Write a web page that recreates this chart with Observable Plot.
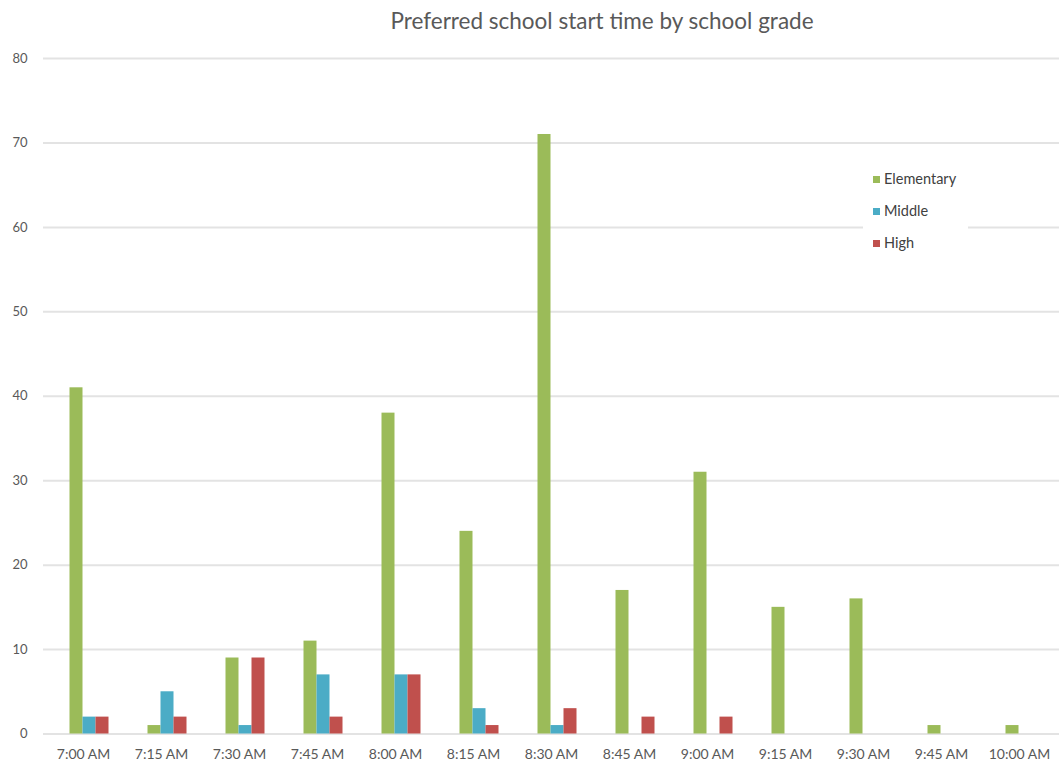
<!DOCTYPE html>
<html>
<head>
<meta charset="utf-8">
<script src="https://cdn.jsdelivr.net/npm/d3@7"></script>
<script src="https://cdn.jsdelivr.net/npm/@observablehq/plot@0.6"></script>
<style>
  html, body { margin: 0; padding: 0; background: #fff; }
  #wrap { position: relative; width: 1059px; height: 765px; font-family: Lato, "Open Sans", sans-serif; }
  #title { height: 40px; line-height: 42px; box-sizing: border-box; padding-left: 145px; text-align: center; font-size: 22.5px; color: #595959; }
  #legend { position: absolute; left: 863px; top: 159px; width: 105px; background: #fff; padding: 4px 0 6px 10px; box-sizing: border-box; font-size: 14.5px; color: #404040; }
  #legend div { height: 32px; line-height: 24px; display: flex; align-items: center; }
  #legend span.sw { display: inline-block; width: 7px; height: 7px; margin-right: 4px; }
</style>
</head>
<body>
<div id="wrap">
  <div id="title">Preferred school start time by school grade</div>
  <div id="chart"></div>
  <div id="legend"></div>
</div>
<script>
// Start-time categories and counts per school level
const times = ["7:00 AM", "7:15 AM", "7:30 AM", "7:45 AM", "8:00 AM", "8:15 AM", "8:30 AM",
               "8:45 AM", "9:00 AM", "9:15 AM", "9:30 AM", "9:45 AM", "10:00 AM"];
const elementary = [41, 1, 9, 11, 38, 24, 71, 17, 31, 15, 16, 1, 1];
const middle     = [2, 5, 1, 7, 7, 3, 1, 0, 0, 0, 0, 0, 0];
const high       = [2, 2, 9, 2, 7, 1, 3, 2, 2, 0, 0, 0, 0];
const grades = ["Elementary", "Middle", "High"];
const colors = ["#9bbb59", "#4bacc6", "#c0504d"];
const yTicks = [0, 10, 20, 30, 40, 50, 60, 70, 80];

const seriesValues = [elementary, middle, high];
const rows = times.flatMap((t, i) =>
  grades.map((g, j) => ({time: t, grade: g, value: seriesValues[j][i]}))
);

// one bar mark per grade, offset within each time band
const barW = 13;
const bars = grades.map((g, j) =>
  Plot.barY(rows.filter(d => d.grade === g), {
    x: "time",
    y: "value",
    fill: colors[j],
    dx: (j - 1) * barW,
    insetLeft: 32.5,
    insetRight: 32.5
  })
);

const chart = Plot.plot({
  width: 1059,
  height: 725,
  marginTop: 18,
  marginBottom: 31.5,
  marginLeft: 43,
  marginRight: 0,
  style: {fontFamily: "Lato, 'Open Sans', sans-serif", color: "#595959", background: "#fff"},
  x: {domain: times, range: [49.5, 1064.5], padding: 0},
  y: {domain: [0, 80]},
  marks: [
    Plot.ruleY(yTicks, {stroke: "#e3e3e3", strokeWidth: 2}),
    ...bars,
    Plot.axisY({ticks: yTicks, tickSize: 0, tickPadding: 16, fontSize: 13, label: null}),
    Plot.axisX({tickSize: 0, tickPadding: 15, dx: -6, fontSize: 14, label: null})
  ]
});
document.getElementById("chart").appendChild(chart);

// legend
const legend = document.getElementById("legend");
grades.forEach((g, j) => {
  const row = document.createElement("div");
  const sw = document.createElement("span");
  sw.className = "sw";
  sw.style.background = colors[j];
  row.appendChild(sw);
  row.appendChild(document.createTextNode(g));
  legend.appendChild(row);
});
</script>
</body>
</html>
